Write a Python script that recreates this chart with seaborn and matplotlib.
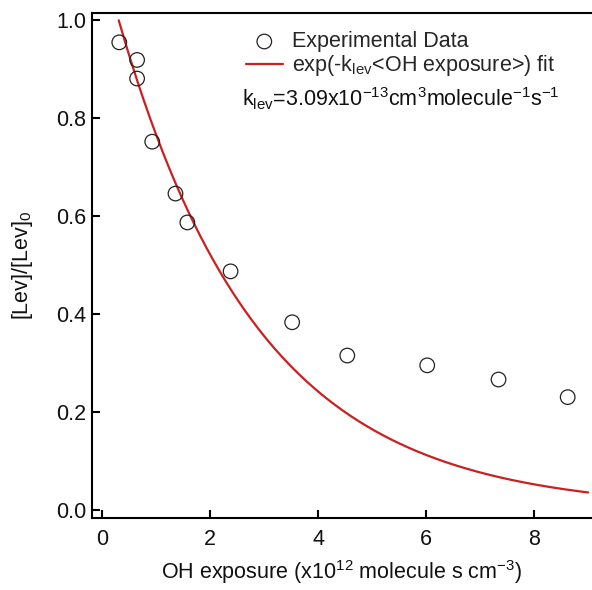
import numpy as np
import pandas as pd
import matplotlib
matplotlib.use("Agg")
import matplotlib.pyplot as plt
import seaborn as sns

# ---- data ----
oh_exposure = [0.32, 0.65, 0.65, 0.93, 1.36, 1.58, 2.38, 3.52, 4.54, 6.02, 7.34, 8.62]
lev_ratio = [0.955, 0.919, 0.881, 0.752, 0.646, 0.587, 0.487, 0.383, 0.315, 0.295, 0.266, 0.230]

# fit parameters (curve exp(-k (x - x0)) as drawn)
fit_k = 0.385
fit_x0 = 0.31
fit_xmax = 9.0

xticks = [0, 2, 4, 6, 8]
yticks = [0.0, 0.2, 0.4, 0.6, 0.8, 1.0]

sns.set_theme(style="ticks")
plt.rcParams["font.family"] = ["Liberation Sans", "DejaVu Sans"]
plt.rcParams["mathtext.fontset"] = "custom"
plt.rcParams["mathtext.rm"] = "Liberation Sans"
plt.rcParams["mathtext.it"] = "Liberation Sans:italic"

fig = plt.figure(figsize=(5.92, 5.90), dpi=100)
ax = fig.add_axes([0.1554, 0.122, 0.8446, 0.856])

df = pd.DataFrame({"x": oh_exposure, "y": lev_ratio})
fit_x = np.linspace(fit_x0, fit_xmax, 300)
fit_df = pd.DataFrame({"x": fit_x, "y": np.exp(-fit_k * (fit_x - fit_x0))})

sns.scatterplot(data=df, x="x", y="y", ax=ax, s=110, marker="o",
                facecolor="none", edgecolor="#222222", linewidth=0.9,
                label="Experimental Data", zorder=3)
sns.lineplot(data=fit_df, x="x", y="y", ax=ax, color="#cc1f1f", linewidth=1.6,
             label=r"exp(-k$_\mathregular{lev}$<OH exposure>) fit", zorder=2)

ax.set_xlim(-0.185, 9.07)
ax.set_ylim(-0.017, 1.015)
ax.set_xticks(xticks)
ax.set_yticks(yticks)
ax.set_xticklabels([str(v) for v in xticks])
ax.set_yticklabels([f"{v:.1f}" for v in yticks])

for s in ["left", "bottom", "top"]:
    ax.spines[s].set_linewidth(1.5)
    ax.spines[s].set_color("black")
ax.spines["right"].set_visible(False)
ax.tick_params(direction="in", length=6, width=1.5, labelsize=15.5, color="black",
               labelcolor="#111111", pad=4)
ax.tick_params(axis="x", pad=8)

ax.set_xlabel(r"OH exposure (x10$^\mathregular{12}$ molecule s cm$^\mathregular{-3}$)",
              fontsize=15.5, color="#111111", labelpad=6)
ax.set_ylabel(r"[Lev]/[Lev]$_\mathregular{0}$", fontsize=15.5, color="#111111", labelpad=15)

handles, labels = ax.get_legend_handles_labels()
order = {lab: h for h, lab in zip(handles, labels)}
labs = ["Experimental Data", r"exp(-k$_\mathregular{lev}$<OH exposure>) fit"]
leg = ax.legend([order[l] for l in labs], labs, loc="upper left",
                bbox_to_anchor=(0.308, 0.964), frameon=False, fontsize=15.5,
                borderpad=0, borderaxespad=0, handlelength=1.7, handletextpad=0.42,
                labelspacing=0.05)

ax.text(0.301, 0.816,
        r"k$_\mathregular{lev}$=3.09x10$^\mathregular{-13}$cm$^\mathregular{3}$molecule$^\mathregular{-1}$s$^\mathregular{-1}$",
        transform=ax.transAxes, fontsize=15.5, va="baseline", ha="left", color="#111111")

fig.savefig("out.png", dpi=100)
